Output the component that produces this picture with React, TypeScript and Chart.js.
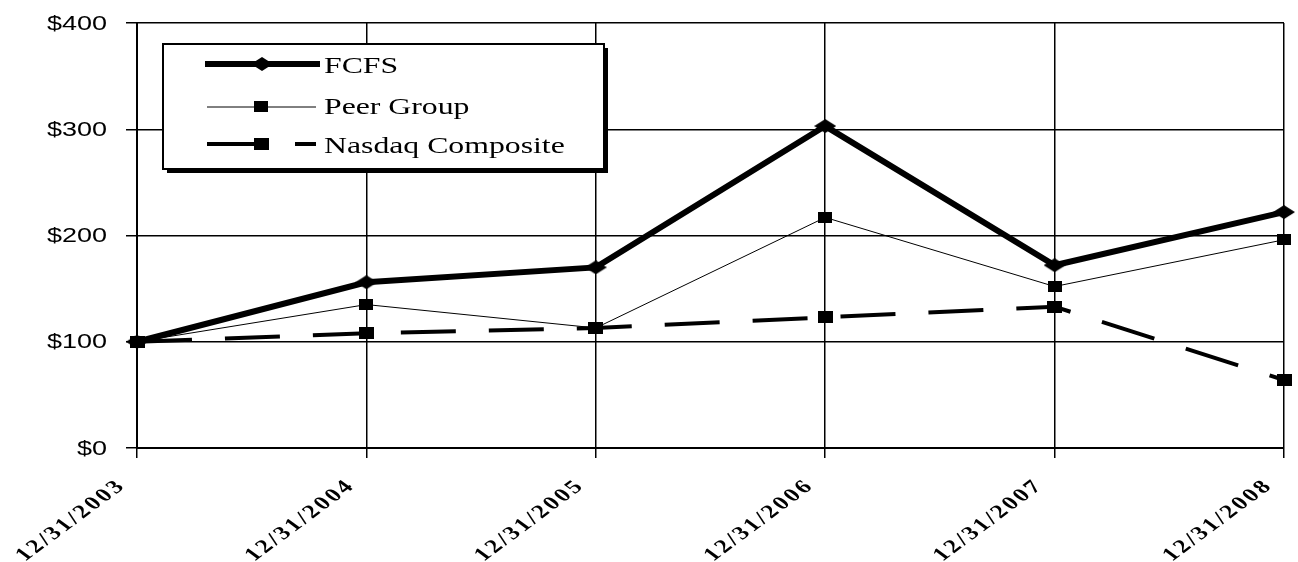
import React, { useEffect, useRef } from "react";
import { Chart, registerables } from "chart.js";

Chart.register(...registerables);

const categories = ["12/31/2003", "12/31/2004", "12/31/2005", "12/31/2006", "12/31/2007", "12/31/2008"];
const fcfs = [100, 156, 170, 303, 172, 222];
const peerGroup = [100, 135, 113, 217, 152, 196];
const nasdaq = [100, 108, 113, 123, 133, 64];
const yTickValues = [0, 100, 200, 300, 400];
const seriesNames = ["FCFS", "Peer Group", "Nasdaq Composite"];

const STRETCH = 1.35;

function makeDiamond(w: number, h: number) {
  const c = document.createElement("canvas");
  c.width = w;
  c.height = h;
  const x = c.getContext("2d")!;
  x.fillStyle = "#000";
  x.beginPath();
  x.moveTo(w / 2, 0);
  x.lineTo(w, h / 2);
  x.lineTo(w / 2, h);
  x.lineTo(0, h / 2);
  x.closePath();
  x.fill();
  return c;
}

function makeSquare(w: number, h: number) {
  const c = document.createElement("canvas");
  c.width = w;
  c.height = h;
  const x = c.getContext("2d")!;
  x.fillStyle = "#000";
  x.fillRect(0, 0, w, h);
  return c;
}

export default function App() {
  const ref = useRef<HTMLCanvasElement | null>(null);

  useEffect(() => {
    if (!ref.current) return;
    const diamond = makeDiamond(22, 14);
    const peerSq = makeSquare(14, 11);
    const nasSq = makeSquare(15, 12);

    const labelPlugin = {
      id: "customLabels",
      afterDraw(chart: any) {
        const ctx = chart.ctx as CanvasRenderingContext2D;
        const xs = chart.scales.x;
        const ys = chart.scales.y;
        // y labels
        ctx.save();
        ctx.fillStyle = "#000";
        ctx.font = "20px 'Liberation Sans'";
        ctx.textAlign = "right";
        ctx.textBaseline = "middle";
        ys.ticks.forEach((t: any) => {
          const y = ys.getPixelForValue(t.value);
          ctx.save();
          ctx.translate(107, y + 1);
          ctx.scale(STRETCH, 1);
          ctx.fillText("$" + t.value, 0, 0);
          ctx.restore();
        });
        ctx.restore();
        // x labels
        ctx.save();
        ctx.fillStyle = "#000";
        ctx.font = "bold 19px 'Liberation Serif'";
        (ctx as any).letterSpacing = "2px";
        ctx.textAlign = "right";
        ctx.textBaseline = "middle";
        categories.forEach((c, i) => {
          const x = xs.getPixelForTick(i);
          ctx.save();
          ctx.translate(x - 15, xs.bottom - 114 + 35);
          ctx.scale(STRETCH, 1);
          ctx.rotate(-Math.PI / 4);
          ctx.fillText(c, 0, 0);
          ctx.restore();
        });
        ctx.restore();

        // legend
        ctx.save();
        const bx = 163, by = 44, bw = 441, bh = 125;
        ctx.fillStyle = "#000";
        ctx.fillRect(bx + 4, by + 4, bw, bh);
        ctx.fillStyle = "#fff";
        ctx.fillRect(bx, by, bw, bh);
        ctx.strokeStyle = "#000";
        ctx.lineWidth = 2;
        ctx.strokeRect(bx, by, bw, bh);

        // FCFS
        ctx.lineWidth = 6;
        ctx.beginPath();
        ctx.moveTo(205, 64);
        ctx.lineTo(320, 64);
        ctx.stroke();
        ctx.drawImage(diamond, 262 - 11, 64 - 7);
        // Peer
        ctx.lineWidth = 1;
        ctx.beginPath();
        ctx.moveTo(207, 107);
        ctx.lineTo(316, 107);
        ctx.stroke();
        ctx.drawImage(peerSq, 261 - 7, 107 - 6);
        // Nasdaq
        ctx.lineWidth = 4;
        ctx.beginPath();
        ctx.moveTo(207, 144);
        ctx.lineTo(262, 144);
        ctx.moveTo(295, 144);
        ctx.lineTo(316, 144);
        ctx.stroke();
        ctx.drawImage(nasSq, 261 - 7, 144 - 6);

        ctx.fillStyle = "#000";
        ctx.font = "24px 'Liberation Serif'";
        ctx.textAlign = "left";
        ctx.textBaseline = "alphabetic";
        const rows = [73, 114, 153];
        seriesNames.forEach((n, i) => {
          ctx.save();
          ctx.translate(324, rows[i]);
          ctx.scale(STRETCH * 0.98, 1);
          ctx.fillText(n, 0, 0);
          ctx.restore();
        });
        ctx.restore();
      },
    };

    const gridCommon = {
      color: "#000",
      lineWidth: 1.5,
      drawTicks: true,
      tickColor: "#000",
      tickWidth: 1.5,
    };

    const chart = new Chart(ref.current, {
      type: "line",
      data: {
        labels: categories,
        datasets: [
          {
            label: seriesNames[0],
            data: fcfs,
            borderColor: "#000",
            backgroundColor: "#000",
            borderWidth: 6,
            pointStyle: diamond as any,
            pointRadius: 8,
            tension: 0,
            fill: false,
            clip: false as any,
          },
          {
            label: seriesNames[1],
            data: peerGroup,
            borderColor: "#000",
            backgroundColor: "#000",
            borderWidth: 1,
            pointStyle: peerSq as any,
            pointRadius: 7,
            tension: 0,
            fill: false,
            clip: false as any,
          },
          {
            label: seriesNames[2],
            data: nasdaq,
            borderColor: "#000",
            backgroundColor: "#000",
            borderWidth: 4,
            borderDash: [55, 33],
            borderCapStyle: "butt",
            pointStyle: nasSq as any,
            pointRadius: 7,
            tension: 0,
            fill: false,
            clip: false as any,
          },
        ],
      },
      options: {
        animation: false,
        responsive: true,
        maintainAspectRatio: false,
        layout: { padding: { top: 23, right: 11, left: 0, bottom: 0 } },
        plugins: {
          legend: { display: false },
          tooltip: { enabled: false },
        },
        events: [],
        scales: {
          x: {
            type: "category",
            offset: false,
            grid: { ...gridCommon, tickLength: 10 },
            border: { color: "#000", width: 2 },
            ticks: { display: false },
            afterFit: (s: any) => {
              s.height = 114;
            },
          },
          y: {
            min: 0,
            max: 400,
            afterBuildTicks: (s: any) => {
              s.ticks = yTickValues.map((v) => ({ value: v }));
            },
            ticks: { display: false, callback: (v: any) => "$" + v },
            grid: { ...gridCommon, tickLength: 11 },
            border: { color: "#000", width: 2 },
            afterFit: (s: any) => {
              s.width = 137;
            },
          },
        },
      },
      plugins: [labelPlugin],
    });
    return () => chart.destroy();
  }, []);

  return (
    <div style={{ position: "fixed", left: 0, top: 0, width: 1298, height: 562, background: "#fff" }}>
      <canvas ref={ref} />
    </div>
  );
}
